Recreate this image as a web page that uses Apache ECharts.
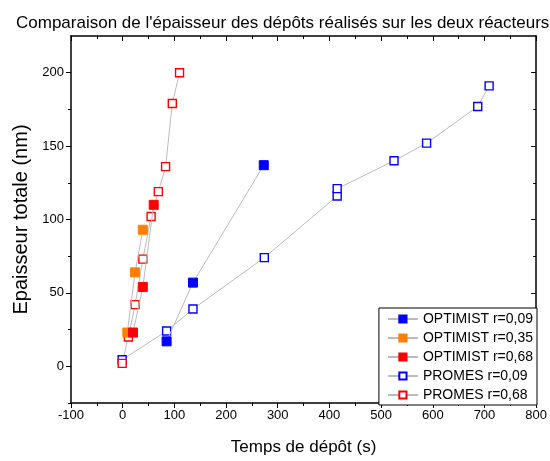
<!DOCTYPE html>
<html><head><meta charset="utf-8">
<script src="https://cdn.jsdelivr.net/npm/echarts@6/dist/echarts.min.js"></script>
<style>html,body{margin:0;padding:0;background:#fff}#c{width:550px;height:461px}</style>
</head><body><div id="c"></div>
<script>
const optimist009 = [[85,17],[136,57],[273,137]];
const optimist035 = [[9,23],[24,64],[39,93]];
const optimist068 = [[20,23],[39,54],[60,110]];
const promes009 = [[-1,4.5],[85,24],[136,39],[274,74],[415,116],[415,121],[525,140],[588,152],[687,177],[709,191]];
const promes068 = [[-1,2],[11,20],[24,42],[39,73],[55,102],[69,119],[83,136],[96,179],[110,200]];
const yMajor = [0,50,100,150,200];
const yMinor = [-25,25,75,125,175];

const font = 'Liberation Sans, Arial, sans-serif';
const axisLine = {show:true, onZero:false, lineStyle:{color:'#000', width:1.5}};
const noLine = {show:false, onZero:false};
function ser(name, data, color, filled){
  return {name, type:'line', data, symbol:'rect', symbolSize: filled?9:8,
    lineStyle:{color:'#bbb', width:1},
    itemStyle: filled ? {color, borderColor:color, borderWidth:1} : {color:'#fff', borderColor:color, borderWidth:1.4},
    emphasis:{disabled:true}, z: filled?3:2};
}
const chart = echarts.init(document.getElementById('c'), null, {renderer:'canvas'});
chart.setOption({
  animation:false,
  textStyle:{fontFamily:font},
  title:{text:"Comparaison de l'épaisseur des dépôts réalisés sur les deux réacteurs", left:11, top:10,
    textStyle:{fontSize:17, fontWeight:'normal', color:'#000', fontFamily:font}},
  grid:{left:71, right:12, top:36, bottom:55},
  legend:{orient:'vertical', right:13, bottom:56, backgroundColor:'#fff', borderColor:'#000', borderWidth:1,
    padding:[4,4,3,8], itemGap:5, itemWidth:30, itemHeight:9,
    textStyle:{fontSize:14, color:'#000', fontFamily:font},
    data:['OPTIMIST r=0,09','OPTIMIST r=0,35','OPTIMIST r=0,68','PROMES r=0,09','PROMES r=0,68']},
  xAxis:[
    {type:'value', min:-100, max:800, interval:100, position:'bottom',
      name:'Temps de dépôt (s)', nameLocation:'middle', nameGap:36,
      nameTextStyle:{fontSize:17, color:'#000'},
      axisLine, axisTick:{show:true, length:5, lineStyle:{color:'#000'}},
      minorTick:{show:true, splitNumber:2, length:3, lineStyle:{color:'#000'}},
      axisLabel:{fontSize:13, color:'#000', margin:6}, splitLine:{show:false}},
    {type:'value', min:-100, max:800, interval:100, position:'top',
      axisLine, axisTick:{show:true, inside:true, length:5, lineStyle:{color:'#000'}},
      minorTick:{show:true, splitNumber:2, length:3, lineStyle:{color:'#000'}},
      axisLabel:{show:false}, splitLine:{show:false}}
  ],
  yAxis:[
    {type:'value', min:-25, max:225, position:'left',
      name:'Epaisseur totale (nm)', nameLocation:'middle', nameGap:40,
      nameTextStyle:{fontSize:20, color:'#000'},
      axisLine, axisTick:{show:true, length:5, customValues:yMajor, lineStyle:{color:'#000'}},
      axisLabel:{fontSize:13, color:'#000', margin:7, customValues:yMajor}, splitLine:{show:false}},
    {type:'value', min:-25, max:225, position:'left',
      axisLine:noLine, axisTick:{show:true, length:3, customValues:yMinor, lineStyle:{color:'#000'}},
      axisLabel:{show:false}, splitLine:{show:false}},
    {type:'value', min:-25, max:225, position:'right',
      axisLine, axisTick:{show:true, inside:true, length:5, customValues:yMajor, lineStyle:{color:'#000'}},
      axisLabel:{show:false}, splitLine:{show:false}},
    {type:'value', min:-25, max:225, position:'right',
      axisLine:noLine, axisTick:{show:true, inside:true, length:3, customValues:yMinor, lineStyle:{color:'#000'}},
      axisLabel:{show:false}, splitLine:{show:false}}
  ],
  series:[
    ser('PROMES r=0,09', promes009, '#0000ff', false),
    ser('PROMES r=0,68', promes068, '#ff0000', false),
    ser('OPTIMIST r=0,09', optimist009, '#0000ff', true),
    ser('OPTIMIST r=0,35', optimist035, '#ff8000', true),
    ser('OPTIMIST r=0,68', optimist068, '#ff0000', true)
  ]
});
</script></body></html>
